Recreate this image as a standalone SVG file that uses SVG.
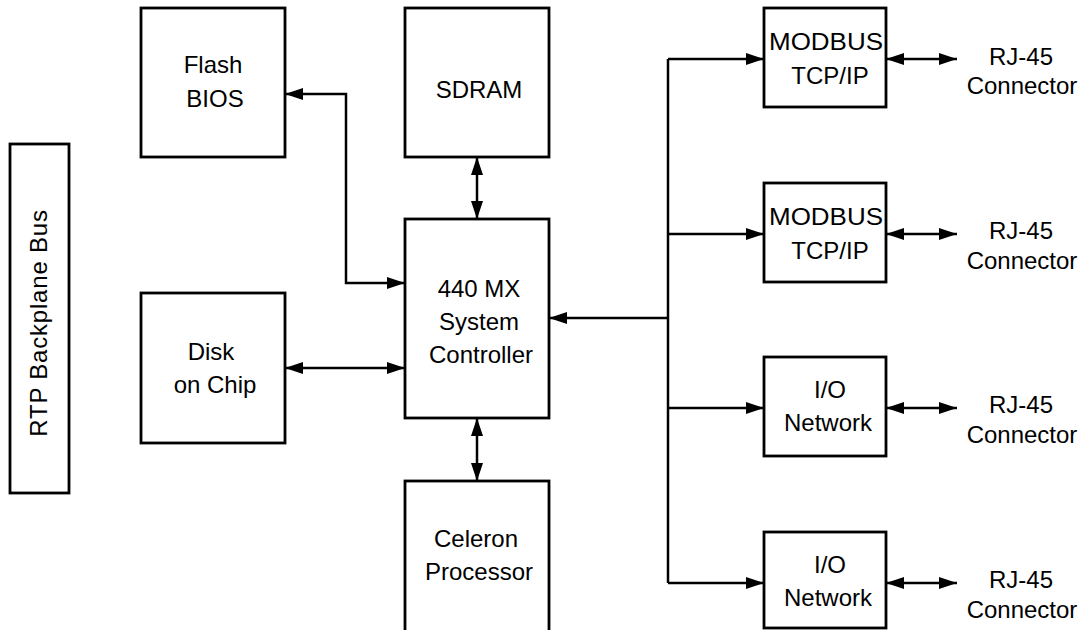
<svg xmlns="http://www.w3.org/2000/svg" width="1082" height="630" viewBox="0 0 1082 630">
<style>
.box{fill:#fff;stroke:#000;stroke-width:2.8}
.t{font-family:"Liberation Sans",Arial,sans-serif;font-size:24px;fill:#000;text-anchor:middle}
.c{fill:none;stroke:#000;stroke-width:2.5}
.bi{marker-start:url(#ah);marker-end:url(#ah)}
.one{marker-end:url(#ah)}
</style>
<defs>
<marker id="ah" markerUnits="userSpaceOnUse" markerWidth="18" markerHeight="12" refX="18" refY="6" orient="auto-start-reverse">
<path d="M0,0 L18,6 L0,12 z" fill="#000"/>
</marker>
</defs>
<rect width="1082" height="630" fill="#fff"/>
<g id="connectors">
<path class="c bi" d="M285,94 H346 V283 H405"/>
<path class="c bi" d="M477,157 V219"/>
<path class="c bi" d="M285,368 H405"/>
<path class="c bi" d="M477,418 V481"/>
<path class="c one" d="M668,318 H549"/>
<path class="c" d="M668,59 V583"/>
<path class="c one" d="M668,59 H764"/>
<path class="c one" d="M668,234 H764"/>
<path class="c one" d="M668,408 H764"/>
<path class="c one" d="M668,583 H764"/>
<path class="c bi" d="M886,59 H957"/>
<path class="c bi" d="M886,234 H957"/>
<path class="c bi" d="M886,408 H957"/>
<path class="c bi" d="M886,583 H957"/>
</g>
<g id="rtp">
<rect class="box" x="10" y="144" width="59" height="349"/>
<text class="t" transform="translate(47,323) rotate(-90)" letter-spacing="0.8">RTP Backplane Bus</text>
</g>
<g id="flash">
<rect class="box" x="141" y="8" width="144" height="149"/>
<text class="t" x="213" y="73">Flash</text>
<text class="t" x="215" y="107">BIOS</text>
</g>
<g id="sdram">
<rect class="box" x="405" y="8" width="144" height="149"/>
<text class="t" x="479" y="98">SDRAM</text>
</g>
<g id="controller">
<rect class="box" x="405" y="219" width="144" height="199"/>
<text class="t" x="479" y="297">440 MX</text>
<text class="t" x="479" y="330">System</text>
<text class="t" x="481" y="363">Controller</text>
</g>
<g id="disk">
<rect class="box" x="141" y="293" width="144" height="150"/>
<text class="t" x="211" y="360">Disk</text>
<text class="t" x="215" y="393">on Chip</text>
</g>
<g id="celeron">
<rect class="box" x="405" y="481" width="144" height="152"/>
<text class="t" x="476" y="547">Celeron</text>
<text class="t" x="479" y="580">Processor</text>
</g>
<g id="modbus1">
<rect class="box" x="764" y="8" width="122" height="99"/>
<text class="t" x="826" y="50" textLength="114" lengthAdjust="spacingAndGlyphs">MODBUS</text>
<text class="t" x="830" y="84">TCP/IP</text>
</g>
<g id="modbus2">
<rect class="box" x="764" y="183" width="122" height="99"/>
<text class="t" x="826" y="225" textLength="114" lengthAdjust="spacingAndGlyphs">MODBUS</text>
<text class="t" x="830" y="259">TCP/IP</text>
</g>
<g id="io1">
<rect class="box" x="764" y="357" width="122" height="99"/>
<text class="t" x="830" y="398">I/O</text>
<text class="t" x="828" y="431">Network</text>
</g>
<g id="io2">
<rect class="box" x="764" y="532" width="122" height="96"/>
<text class="t" x="830" y="573">I/O</text>
<text class="t" x="828" y="606">Network</text>
</g>
<g id="rj1"><text class="t" x="1021" y="65">RJ-45</text><text class="t" x="1022" y="94">Connector</text></g>
<g id="rj2"><text class="t" x="1021" y="239">RJ-45</text><text class="t" x="1022" y="269">Connector</text></g>
<g id="rj3"><text class="t" x="1021" y="413">RJ-45</text><text class="t" x="1022" y="443">Connector</text></g>
<g id="rj4"><text class="t" x="1021" y="588">RJ-45</text><text class="t" x="1022" y="618">Connector</text></g>
</svg>
